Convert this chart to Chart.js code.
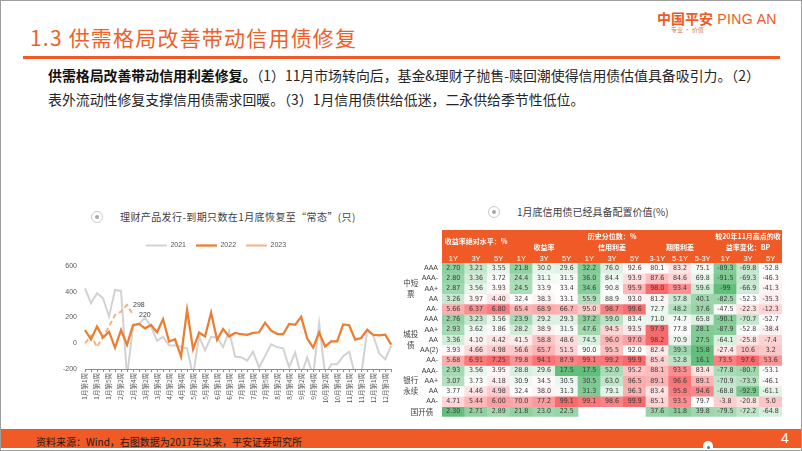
<!DOCTYPE html>
<html lang="zh-CN">
<head>
<meta charset="utf-8">
<title>供需格局改善带动信用债修复</title>
<script src="https://cdn.jsdelivr.net/npm/chart.js@4.4.1/dist/chart.umd.min.js"></script>
<style>
  html, body { margin:0; padding:0; background:#fff; }
  #slide { position:relative; width:802px; height:451px; overflow:hidden; background:#fff;
           font-family:"Noto Sans CJK SC","Noto Sans",sans-serif; color:#262626; }
  .t { position:absolute; white-space:nowrap; }
  #title { left:30px; top:22px; font-size:21px; line-height:30px; color:#EE5F2A; letter-spacing:1.2px; }
  #rule { position:absolute; left:23px; top:56px; width:757px; height:2.5px; background:#EF5A26; }
  #logo { left:657px; top:9px; font-size:14px; line-height:18px; color:#EE5A24; font-family:"Liberation Sans","Noto Sans CJK SC",sans-serif; letter-spacing:0.4px; }
  #logo b { font-family:"Noto Sans CJK SC",sans-serif; font-weight:700; letter-spacing:0; }
  #slogan { left:671px; top:26px; font-size:6px; line-height:8px; color:#d07a5a; }
  .para { left:48px; font-size:13.9px; line-height:16px; color:#262626; }
  .para b { font-weight:700; color:#111; }
  .bullet { position:absolute; width:12px; height:12px; box-sizing:border-box; border:1.5px solid #c9c9c9; border-radius:50%; }
  .bullet::after { content:""; position:absolute; left:2.5px; top:2.5px; width:4px; height:4px; border-radius:50%; background:#a8a8a8; }
  .ctitle { font-size:10px; line-height:14px; color:#404040; letter-spacing:0.4px; }
  canvas { position:absolute; }
  #footbar { position:absolute; left:0; top:429px; width:802px; height:19px; background:#EF5A26; }
  #source { left:36px; top:435px; font-size:10px; line-height:14px; color:#2a1a12; }
  #pageno { left:781px; top:430px; font-size:14px; line-height:17px; color:#fff; font-family:"Liberation Sans",sans-serif; }
  #mark { position:absolute; left:703px; top:441px; width:10px; height:10px; border-radius:50% 50% 0 0; background:#fff; }
  #mark::after { content:""; position:absolute; left:3.5px; top:5px; width:3px; height:3px; border-radius:50%; background:#3a9a5a; }
  #frame { position:absolute; left:0; top:0; width:802px; height:451px; box-sizing:border-box; border:1px solid #9e9e9e; pointer-events:none; }
</style>
</head>
<body>
<div id="slide">
  <div class="t" id="title">1.3 供需格局改善带动信用债修复</div>
  <div id="rule"></div>
  <div class="t" id="logo"><b>中国平安</b> PING AN</div>
  <div class="t" id="slogan">专业 · 价值</div>
  <div class="t para" style="top:67px"><b>供需格局改善带动信用利差修复。</b>（1）11月市场转向后，基金&amp;理财子抛售-赎回潮使得信用债估值具备吸引力。（2）</div>
  <div class="t para" style="top:91px">表外流动性修复支撑信用债需求回暖。（3）1月信用债供给低迷，二永供给季节性低位。</div>

  <div class="bullet" style="left:91px;top:211px"></div>
  <div class="t ctitle" style="left:120px;top:210px">理财产品发行-到期只数在1月底恢复至“常态”(只)</div>
  <div class="bullet" style="left:488px;top:206px"></div>
  <div class="t ctitle" style="left:517px;top:205px;letter-spacing:0">1月底信用债已经具备配置价值(%)</div>

  <canvas id="c1" width="360" height="190" style="left:40px;top:232px"></canvas>
  <canvas id="c2" width="398" height="200" style="left:398px;top:225px"></canvas>

  <div id="footbar"></div>
  <div class="t" id="source">资料来源：Wind，右图数据为2017年以来，平安证券研究所</div>
  <div id="mark"></div>
  <div class="t" id="pageno">4</div>
  <div id="frame"></div>
</div>

<script>
// ---------------- Left chart data ----------------
const weekLabels = ['1月第1周','1月第2周','1月第3周','1月第4周','1月第5周',
  '2月第1周','2月第2周','2月第3周','2月第4周',
  '3月第1周','3月第2周','3月第3周','3月第4周',
  '4月第1周','4月第2周','4月第3周','4月第4周',
  '5月第1周','5月第2周','5月第3周','5月第4周','5月第5周',
  '6月第1周','6月第2周','6月第3周','6月第4周',
  '7月第1周','7月第2周','7月第3周','7月第4周','7月第5周',
  '8月第1周','8月第2周','8月第3周','8月第4周',
  '9月第1周','9月第2周','9月第3周','9月第4周',
  '10月第1周','10月第2周','10月第3周','10月第4周','10月第5周',
  '11月第1周','11月第2周','11月第3周','11月第4周',
  '12月第1周','12月第2周','12月第3周','12月第4周'];

const seriesNames = ['2021', '2022', '2023'];
const net2021 = [427,311,388,350,207,414,406,-260,130,150,200,130,20,50,-15,-18,-28,-40,-250,50,
  -55,50,44,-30,96,-103,-108,-135,-66,-189,-98,-8,-30,-39,-184,-72,-250,-110,-250,155,
  -250,-163,-163,-100,-66,-250,-250,100,60,-80,-125,-20];
const net2022 = [103,30,130,44,90,-34,103,-13,142,150,116,142,85,186,13,31,-103,259,-47,83,
  52,238,26,111,52,80,70,65,80,85,160,98,73,70,150,143,205,38,-34,83,
  -26,15,15,146,140,28,41,106,66,62,66,-10];
const net2023 = [0,60,-30,50,130,220,245,298,220];
const labeled2023 = [7, 8];
const yTicks = { min: -200, max: 600, step: 200 };

// ---------------- Right heatmap data ----------------
const heatCols = ['1Y','3Y','5Y','1Y','3Y','5Y','1Y','3Y','5Y','3-1Y','5-1Y','5-3Y','1Y','3Y','5Y'];
const heatRows = ['AAA','AAA-','AA+','AA','AA-','AAA','AA+','AA','AA(2)','AA-','AAA-','AA+','AA','AA-','国开债'];
const mtnAAA   = ['2.70','3.21','3.55','21.8','30.0','29.6','32.2','76.0','92.6','80.1','83.2','75.1','-89.3','-69.8','-52.8'];
const mtnAAAm  = ['2.80','3.36','3.72','24.4','31.1','31.5','36.0','84.4','93.9','87.6','84.6','69.8','-91.5','-69.3','-46.3'];
const mtnAAp   = ['2.87','3.56','3.93','24.5','33.9','33.4','34.6','90.8','95.9','98.0','93.4','59.6','-99','-66.9','-41.3'];
const mtnAA    = ['3.26','3.97','4.40','32.4','38.3','33.1','55.9','88.9','93.0','81.2','57.8','40.1','-82.5','-52.3','-35.3'];
const mtnAAm   = ['5.66','6.37','6.80','65.4','68.9','66.7','95.0','98.7','99.6','72.7','48.2','37.6','-47.5','-22.3','-12.3'];
const lgfvAAA  = ['2.76','3.23','3.56','23.9','29.2','29.3','37.2','59.0','83.4','71.0','74.7','65.8','-90.1','-70.7','-52.7'];
const lgfvAAp  = ['2.93','3.62','3.86','28.2','38.9','31.5','47.6','94.5','93.5','97.9','77.8','28.1','-87.9','-52.8','-38.4'];
const lgfvAA   = ['3.36','4.10','4.42','41.5','58.8','48.6','74.5','96.0','97.0','98.2','70.9','27.5','-64.1','-25.8','-7.4'];
const lgfvAA2  = ['3.93','4.66','4.98','56.6','65.7','51.5','90.0','95.5','92.0','82.4','39.3','15.8','-27.4','10.6','3.2'];
const lgfvAAm  = ['5.68','6.91','7.25','79.8','94.1','87.9','99.1','99.2','99.9','85.4','52.8','16.1','73.5','97.6','53.6'];
const perpAAAm = ['2.93','3.56','3.95','28.8','29.6','17.5','17.5','52.0','95.2','88.1','93.5','83.4','-77.8','-80.7','-53.1'];
const perpAAp  = ['3.07','3.73','4.18','30.9','34.5','30.5','30.5','63.0','96.5','89.1','96.6','89.1','-70.9','-73.9','-46.1'];
const perpAA   = ['3.77','4.46','4.98','32.4','38.0','31.3','31.3','79.1','96.3','83.4','95.8','94.6','-68.8','-92.9','-61.1'];
const perpAAm  = ['4.71','5.44','6.00','70.0','77.2','99.1','99.1','98.6','99.9','85.1','93.5','79.7','-3.8','-20.8','5.0'];
const cdbRow   = ['2.30','2.71','2.89','21.8','23.0','22.5',null,null,null,'37.6','31.8','39.8','-79.5','-72.2','-64.8'];
const heatData = [mtnAAA, mtnAAAm, mtnAAp, mtnAA, mtnAAm, lgfvAAA, lgfvAAp, lgfvAA, lgfvAA2, lgfvAAm,
                  perpAAAm, perpAAp, perpAA, perpAAm, cdbRow];
const rowGroups = [
  { lines: ['中短', '票'], from: 0, to: 4 },
  { lines: ['城投', '债'], from: 5, to: 9 },
  { lines: ['银行', '永续'], from: 10, to: 13 }
];
const headerGroups = [
  { cols: [0, 2],  lines: [['收益率绝对水平：%', 16]] },
  { cols: [3, 5],  lines: [['收益率', 22.3]] },
  { cols: [6, 8],  lines: [['历史分位数：%', 11.7], ['信用利差', 22.3]] },
  { cols: [9, 11], lines: [['期限利差', 22.3]] },
  { cols: [12, 14], lines: [['较20年11月高点的收', 11.7], ['益率变化：BP', 22.3]] }
];
const colorBlocks = [[0,1,2],[3,4,5],[6,7,8],[9,10,11],[12,13,14]];

// ---------------- Styling ----------------
const FONT = '"Liberation Sans", "Noto Sans CJK SC", sans-serif';
const CJK = '"Noto Sans CJK SC", "Liberation Sans", sans-serif';
const NARROW = '"Liberation Sans Narrow", "DejaVu Sans Condensed", "Liberation Sans", sans-serif';
const ORANGE_BG = '#EF5A26';
Chart.defaults.font.family = FONT;

// ---------------- Left chart ----------------
const legendSpacer = {
  id: 'legendSpacer',
  afterInit(chart) {
    const lg = chart.legend;
    if (!lg) return;
    const orig = lg.fit;
    lg.fit = function () { orig.call(this); this.height = 34; };
  }
};
const pointLabels = {
  id: 'pointLabels',
  afterDatasetsDraw(chart) {
    const meta = chart.getDatasetMeta(2);
    const ctx = chart.ctx;
    ctx.save();
    ctx.font = '7px ' + FONT;
    ctx.fillStyle = '#404040';
    ctx.textAlign = 'left';
    ctx.textBaseline = 'middle';
    labeled2023.forEach(i => {
      const el = meta.data[i];
      if (el) ctx.fillText(String(net2023[i]), el.x + 6, el.y);
    });
    ctx.restore();
  }
};

new Chart(document.getElementById('c1'), {
  type: 'line',
  data: {
    labels: weekLabels,
    datasets: [
      { label: seriesNames[0], data: net2021, borderColor: '#D2D2D4', backgroundColor: '#D2D2D4',
        borderWidth: 2, pointRadius: 0, tension: 0, order: 3 },
      { label: seriesNames[1], data: net2022, borderColor: '#ED7D31', backgroundColor: '#ED7D31',
        borderWidth: 2.25, pointRadius: 0, tension: 0, order: 1 },
      { label: seriesNames[2], data: net2023, borderColor: '#F4B183', backgroundColor: '#F4B183',
        borderWidth: 2, borderDash: [5, 3], pointRadius: 0, tension: 0, order: 2 }
    ]
  },
  options: {
    responsive: false, animation: false, events: [], devicePixelRatio: 1,
    layout: { padding: { left: 0, right: 8, top: 0, bottom: 0 } },
    plugins: {
      legend: {
        position: 'top',
        labels: {
          usePointStyle: true, pointStyle: 'line', pointStyleWidth: 21,
          font: { size: 7, family: FONT }, color: '#595959', padding: 10,
          sort: (a, b) => a.datasetIndex - b.datasetIndex
        }
      },
      tooltip: { enabled: false }
    },
    scales: {
      x: {
        grid: { display: true, drawOnChartArea: false, drawTicks: true, tickLength: 3, color: '#8c8c8c' },
        border: { display: true, color: '#8c8c8c' },
        ticks: {
          autoSkip: false, minRotation: 90, maxRotation: 90, padding: 1,
          font: { size: 6.5, family: CJK }, color: '#595959',
          callback: (v, i) => (i % 2 === 0 ? weekLabels[i] : '')
        },
        afterFit: s => { s.height = 53; }
      },
      y: {
        min: yTicks.min, max: yTicks.max,
        grid: { display: false, drawTicks: false },
        border: { display: false },
        ticks: { stepSize: yTicks.step, font: { size: 7, family: FONT }, color: '#595959', padding: 8 },
        afterFit: s => { s.width = 45; }
      }
    }
  },
  plugins: [legendSpacer, pointLabels]
});

// ---------------- Right heatmap ----------------
function blockStats(block) {
  const vals = [];
  heatData.forEach(row => block.forEach(c => { if (row[c] !== null) vals.push(parseFloat(row[c])); }));
  vals.sort((a, b) => a - b);
  const n = vals.length, pos = (n - 1) * 0.5, lo = Math.floor(pos), hi = Math.ceil(pos);
  return { min: vals[0], max: vals[n - 1], mid: vals[lo] + (vals[hi] - vals[lo]) * (pos - lo) };
}
const GREEN = [99, 190, 123], WHITE = [255, 255, 255], RED = [248, 105, 107];
function mix(a, b, t) {
  t = Math.max(0, Math.min(1, t));
  return 'rgb(' + a.map((v, i) => Math.round(v + (b[i] - v) * t)).join(',') + ')';
}
const statsByCol = [];
colorBlocks.forEach(block => { const st = blockStats(block); block.forEach(c => { statsByCol[c] = st; }); });
function cellColor(str, c) {
  if (str === null) return 'rgba(0,0,0,0)';
  const v = parseFloat(str), st = statsByCol[c];
  if (v <= st.mid) return mix(GREEN, WHITE, (v - st.min) / (st.mid - st.min));
  return mix(WHITE, RED, (v - st.mid) / (st.max - st.mid));
}

const heatPlugin = {
  id: 'heat',
  beforeDraw(chart) {
    const { ctx, chartArea: a } = chart;
    ctx.save();
    ctx.fillStyle = ORANGE_BG;
    ctx.fillRect(a.left, 5, a.right - a.left, a.top - 5);
    ctx.restore();
  },
  afterDatasetsDraw(chart) {
    const { ctx, scales: { x, y } } = chart;
    ctx.save();
    ctx.font = '7px ' + NARROW;
    ctx.fillStyle = '#3a3a3a';
    ctx.textAlign = 'center';
    ctx.textBaseline = 'middle';
    heatData.forEach((row, r) => row.forEach((v, c) => {
      if (v === null) return;
      ctx.fillText(v, x.getPixelForValue(c), y.getPixelForValue(r + 0.5));
    }));
    ctx.restore();
  },
  afterDraw(chart) {
    const { ctx, scales: { x, y } } = chart;
    ctx.save();
    ctx.textAlign = 'center';
    ctx.textBaseline = 'middle';
    ctx.fillStyle = '#ffffff';
    ctx.font = 'bold 7px ' + CJK;
    headerGroups.forEach(g => {
      const cx = (x.getPixelForValue(g.cols[0]) + x.getPixelForValue(g.cols[1])) / 2;
      g.lines.forEach(([txt, yy]) => ctx.fillText(txt, cx, yy));
    });
    ctx.fillStyle = '#404040';
    ctx.font = '7.5px ' + CJK;
    rowGroups.forEach(g => {
      const cy = y.getPixelForValue((g.from + g.to + 1) / 2);
      const n = g.lines.length;
      g.lines.forEach((txt, i) => ctx.fillText(txt, 12.7, cy + (i - (n - 1) / 2) * 11));
    });
    ctx.fillText(heatRows[14], 24, y.getPixelForValue(14.5));
    ctx.restore();
  }
};

new Chart(document.getElementById('c2'), {
  type: 'bar',
  data: {
    labels: heatCols,
    datasets: heatData.map((row, r) => ({
      label: heatRows[r],
      data: row.map(v => (v === null ? null : [r, r + 1])),
      backgroundColor: row.map((v, c) => cellColor(v, c)),
      borderWidth: 0,
      grouped: false,
      barPercentage: 1,
      categoryPercentage: 1
    }))
  },
  options: {
    responsive: false, animation: false, events: [], devicePixelRatio: 1,
    layout: { padding: { left: 0, right: 14, top: 0, bottom: 4 } },
    plugins: { legend: { display: false }, tooltip: { enabled: false } },
    scales: {
      x: {
        type: 'category', position: 'top', offset: true,
        grid: { display: false, drawTicks: false }, border: { display: false },
        ticks: { color: '#ffffff', font: { size: 7.5, family: FONT }, padding: 0, autoSkip: false, maxRotation: 0 },
        afterFit: s => { s.height = 38; }
      },
      y: {
        type: 'linear', min: 0, max: heatRows.length, reverse: true,
        grid: { display: false, drawTicks: false }, border: { display: false },
        afterBuildTicks: s => { s.ticks = heatRows.map((_, i) => ({ value: i + 0.5 })); },
        ticks: {
          autoSkip: false, padding: 4, color: '#404040', font: { size: 7, family: FONT },
          callback: v => { const i = Math.floor(v); return i < heatRows.length - 1 ? heatRows[i] : ''; }
        },
        afterFit: s => { s.width = 44; }
      }
    }
  },
  plugins: [heatPlugin]
});
</script>
</body>
</html>
